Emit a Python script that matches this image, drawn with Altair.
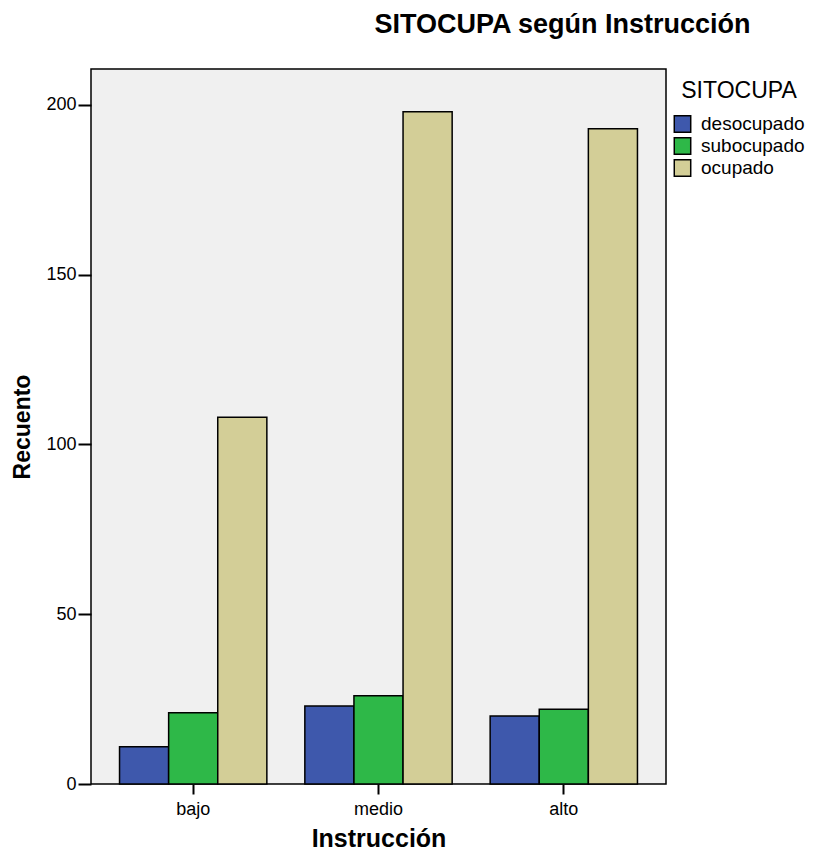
import altair as alt
import pandas as pd

categorias = ["bajo", "medio", "alto"]
series = ["desocupado", "subocupado", "ocupado"]
desocupado = [11, 23, 20]
subocupado = [21, 26, 22]
ocupado = [108, 198, 193]
colores = ["#3e58ac", "#2eb848", "#d3ce97"]
ticks_y = [0, 50, 100, 150, 200]

rows = []
for i, c in enumerate(categorias):
    for s, vals in zip(series, [desocupado, subocupado, ocupado]):
        rows.append({"Instrucción": c, "SITOCUPA": s, "Recuento": vals[i]})
df = pd.DataFrame(rows)

FONT = "Liberation Sans"

chart = alt.Chart(df).mark_bar(stroke="black", strokeWidth=1.5).encode(
    x=alt.X("Instrucción:N", sort=categorias,
            scale=alt.Scale(paddingInner=0.205, paddingOuter=0.154),
            axis=alt.Axis(title="Instrucción", labelAngle=0, domain=False,
                          tickSize=10, tickWidth=2, tickColor="black",
                          labelPadding=6, labelFontSize=18, labelColor="black",
                          labelFont=FONT,
                          titleFont=FONT, titleFontSize=25, titleFontWeight="bold",
                          titleColor="black", titleY=54, titleBaseline="middle")),
    xOffset=alt.XOffset("SITOCUPA:N", sort=series, scale=alt.Scale(paddingInner=0, paddingOuter=0)),
    y=alt.Y("Recuento:Q", scale=alt.Scale(domain=[0, 210.6], nice=False, zero=True),
            axis=alt.Axis(title="Recuento", values=ticks_y, domain=False, grid=False,
                          tickSize=13, tickWidth=2, tickColor="black",
                          labelPadding=2, labelFontSize=18, labelColor="black",
                          labelFont=FONT,
                          titleFont=FONT, titleFontSize=23, titleFontWeight="bold",
                          titleColor="black", titleX=-69, titleAngle=-90,
                          titleBaseline="middle", titleAlign="center")),
    color=alt.Color("SITOCUPA:N", sort=series,
                    scale=alt.Scale(domain=series, range=colores),
                    legend=alt.Legend(title="SITOCUPA", orient="none", legendX=582, legendY=11,
                                      symbolType="square", symbolSize=270,
                                      symbolStrokeColor="black", symbolStrokeWidth=1.5,
                                      symbolOpacity=1, clipHeight=22,
                                      labelFont=FONT, labelFontSize=19, labelColor="black",
                                      titleFont=FONT, titleFontSize=23, titleFontWeight="normal",
                                      titleColor="black", titleAnchor="middle",
                                      titlePadding=10, rowPadding=0, labelOffset=9)),
).properties(
    width=575, height=715,
    background="white",
    title=alt.TitleParams("SITOCUPA según Instrucción", font=FONT, fontSize=27,
                          fontWeight="bold", color="black", anchor="middle",
                          frame="group", dx=184, offset=30),
    autosize=alt.AutoSizeParams(type="none"),
    padding={"left": 83, "top": 61, "right": 140, "bottom": 66},
).configure_view(
    fill="#f0f0f0", stroke="black", strokeWidth=1.5
)

chart.save("out.html", embed_options={"renderer": "svg", "actions": False})
